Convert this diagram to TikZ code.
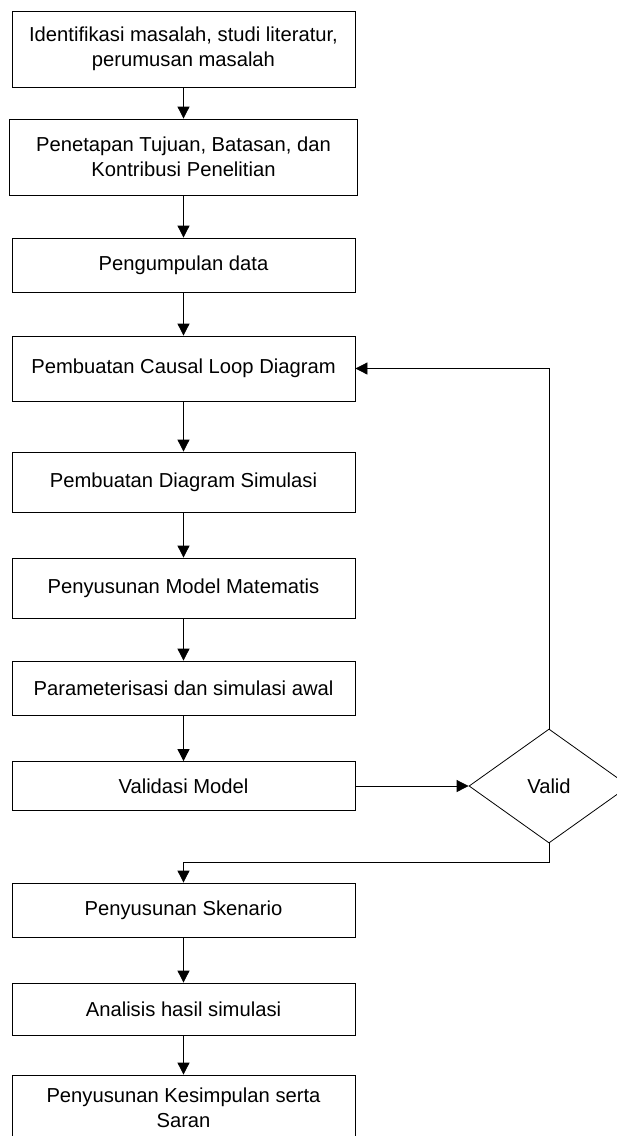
\documentclass[tikz,border=0pt]{standalone}
\usepackage{fontspec}
\setmainfont{Liberation Sans}
\usetikzlibrary{arrows.meta,shapes.geometric}
\begin{document}
\begin{tikzpicture}[x=1pt,y=-1pt,
  box/.style={draw,line width=0.8pt,minimum width=343pt,inner sep=0pt,align=center,font=\fontsize{20.2}{25}\selectfont},
  dec/.style={draw,shape=diamond,line width=0.8pt,minimum width=160pt,minimum height=114pt,inner sep=0pt,aspect=1.4,font=\fontsize{20.2}{25}\selectfont},
  arr/.style={line width=0.8pt,-{Triangle[length=12pt,width=12pt]}}]
\path[use as bounding box,clip] (0,0) rectangle (617,1136);
\node[box,minimum height=76pt] (b1) at (183.5,49) {Identifikasi masalah, studi literatur,\\perumusan masalah};
\node[box,minimum height=76pt,minimum width=348pt] (b2) at (183.5,157) {Penetapan Tujuan, Batasan, dan\\Kontribusi Penelitian};
\node[box,minimum height=54pt] (b3) at (183.5,265) {Pengumpulan data};
\node[box,minimum height=65pt] (b4) at (183.5,368.5) {Pembuatan Causal Loop Diagram};
\node[box,minimum height=60pt] (b5) at (183.5,482) {Pembuatan Diagram Simulasi};
\node[box,minimum height=60pt] (b6) at (183.5,588) {Penyusunan Model Matematis};
\node[box,minimum height=54pt] (b7) at (183.5,688) {Parameterisasi dan simulasi awal};
\node[box,minimum height=49pt] (b8) at (183.5,786) {Validasi Model};
\node[box,minimum height=54pt] (b9) at (183.5,910) {Penyusunan Skenario};
\node[box,minimum height=52pt] (b10) at (183.5,1009) {Analisis hasil simulasi};
\node[box,minimum height=66pt] (b11) at (183.5,1108) {Penyusunan Kesimpulan serta\\Saran};
\node[dec] (d) at (549,786) {Valid};
\coordinate (k) at (549,862);
\draw[arr] (b1.south) -- (b2.north);
\draw[arr] (b2.south) -- (b3.north);
\draw[arr] (b3.south) -- (b4.north);
\draw[arr] (b4.south) -- (b5.north);
\draw[arr] (b5.south) -- (b6.north);
\draw[arr] (b6.south) -- (b7.north);
\draw[arr] (b7.south) -- (b8.north);
\draw[arr] (b8.east) -- (d.west);
\draw[arr] (d.north) |- (b4.east);
\draw[arr] (d.south) -- (k) -| (b9.north);
\draw[arr] (b9.south) -- (b10.north);
\draw[arr] (b10.south) -- (b11.north);
\end{tikzpicture}
\end{document}
